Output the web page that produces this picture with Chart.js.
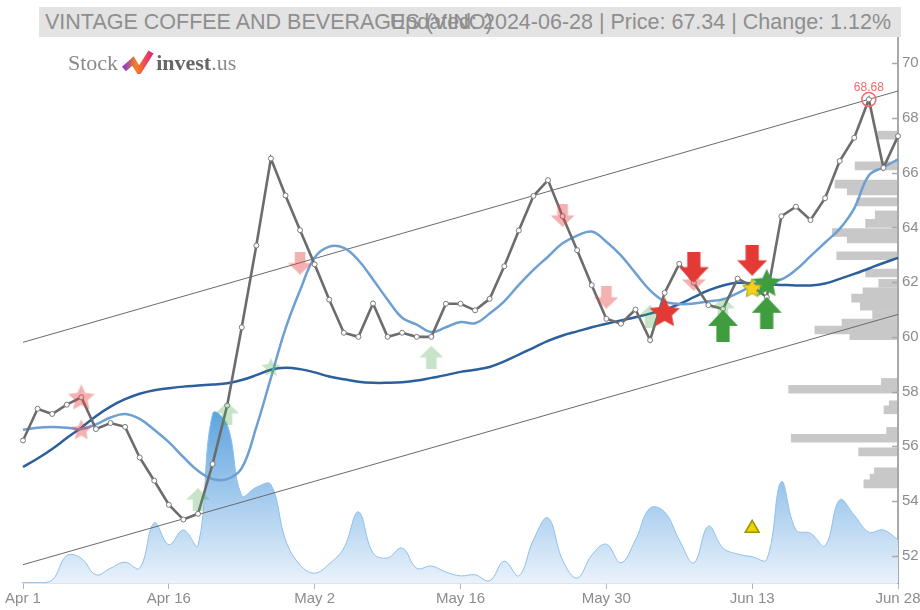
<!DOCTYPE html>
<html>
<head>
<meta charset="utf-8">
<script src="https://cdn.jsdelivr.net/npm/chart.js@4.4.1/dist/chart.umd.min.js"></script>
<style>
  body { margin:0; background:#fff; overflow:hidden; }
  #wrap { position:relative; width:920px; height:610px; }
  canvas { position:absolute; left:0; top:0; }
  #bar { position:absolute; left:39px; top:7px; width:862px; height:30px; background:#e3e3e3; }
  .tt { position:absolute; top:7px; height:30px; line-height:30px; font-family:'Liberation Sans', Arial, sans-serif;
        font-size:21.5px; color:#8e8e8e; white-space:nowrap; }
  #logo { position:absolute; left:68px; top:50px; height:26px; line-height:26px; font-family:'Liberation Serif', serif;
          font-size:22px; color:#8a8a8a; white-space:nowrap; }
  #logo svg { vertical-align:-4px; margin:0 2px 0 3px; }
  #logo b { color:#666; }
</style>
</head>
<body>
<div id="wrap">
  <canvas id="profile" width="920" height="610"></canvas>
  <canvas id="chart" width="920" height="610"></canvas>
  <div id="bar"></div>
  <div class="tt" style="left:45px">VINTAGE COFFEE AND BEVERAGES (VINO)</div>
  <div class="tt" style="right:29px">Updated: 2024-06-28 | Price: 67.34 | Change: 1.12%</div>
  <div id="logo">Stock<svg width="33" height="24" viewBox="0 0 33 24">
    <defs><linearGradient id="lg" x1="0" y1="0" x2="1" y2="0">
      <stop offset="0" stop-color="#8e3bc8"/><stop offset="0.45" stop-color="#f7821d"/><stop offset="1" stop-color="#e4287c"/>
    </linearGradient></defs>
    <polyline points="3,19 12,11 18,21 30,2" fill="none" stroke="url(#lg)" stroke-width="6"/>
  </svg><b>invest</b>.us</div>
</div>
<script>
// trading days shown on the x axis
const dates = [
  'Apr 1','Apr 2','Apr 3','Apr 4','Apr 5','Apr 8','Apr 9','Apr 10','Apr 11','Apr 12',
  'Apr 16','Apr 17','Apr 18','Apr 19','Apr 22','Apr 23','Apr 24','Apr 25','Apr 26','Apr 29',
  'May 2','May 3','May 6','May 7','May 8','May 9','May 10','May 13','May 14','May 15',
  'May 16','May 17','May 20','May 21','May 22','May 23','May 24','May 27','May 28','May 29',
  'May 30','May 31','Jun 3','Jun 4','Jun 5','Jun 6','Jun 7','Jun 10','Jun 11','Jun 12',
  'Jun 13','Jun 14','Jun 17','Jun 18','Jun 20','Jun 21','Jun 24','Jun 25','Jun 26','Jun 27',
  'Jun 28'
];
const tickDates = ['Apr 1','Apr 16','May 2','May 16','May 30','Jun 13','Jun 28'];
const yTicks = [52,54,56,58,60,62,64,66,68,70];

const price = [56.21,57.37,57.18,57.52,57.79,56.63,56.85,56.71,55.59,54.74,
  53.86,53.32,53.53,55.35,57.49,60.35,63.34,66.52,65.17,63.90,
  62.65,61.36,60.15,60.00,61.22,60.00,60.15,60.00,60.00,61.21,
  61.21,60.97,61.39,62.58,63.89,65.15,65.73,64.41,63.17,61.89,
  60.66,60.48,61.00,59.88,61.61,62.67,61.98,61.16,61.02,62.13,
  61.85,61.45,64.41,64.76,64.27,65.07,66.43,67.28,68.68,66.18,67.34];

const maFast = [56.6,56.68,56.7,56.68,56.63,56.8,57.05,57.18,57.0,56.6,
  56.15,55.6,55.1,54.8,54.8,55.2,56.7,58.5,60.3,61.7,
  62.9,63.3,63.25,62.8,62.1,61.36,60.7,60.45,60.18,60.35,
  60.54,60.5,60.85,61.3,61.9,62.45,62.93,63.42,63.7,63.85,
  63.48,62.98,62.33,61.7,61.3,61.2,61.22,61.3,61.37,61.6,
  61.85,62.0,62.1,62.45,62.95,63.45,63.95,64.7,65.9,66.2,66.49];

const maSlow = [55.24,55.55,55.9,56.3,56.68,57.1,57.45,57.72,57.92,58.05,
  58.12,58.18,58.22,58.26,58.3,58.42,58.6,58.8,58.87,58.82,
  58.7,58.55,58.45,58.36,58.32,58.32,58.34,58.4,58.5,58.6,
  58.72,58.8,58.9,59.1,59.35,59.6,59.85,60.05,60.2,60.35,
  60.48,60.6,60.72,60.85,61.0,61.2,61.45,61.7,61.88,61.98,
  61.95,61.92,61.9,61.88,61.88,61.95,62.12,62.3,62.5,62.7,62.89];

const volume = [0,0,0.5,5,4.5,1.5,2.7,3.8,2.7,11,
  7,9.7,6.8,31,29,16,17.5,18,7.9,3.3,
  1.8,3.5,6.4,13,5.5,4.6,6.4,2.7,3.1,2,
  1.3,1.5,0.4,4,1.3,7.9,11.9,4.2,0.9,5.1,
  7.1,3.7,7.9,13.7,13,7.9,3.7,10.4,6.4,5.3,
  4.8,4.3,18.5,9.7,9.1,6.8,15.2,12.4,9.3,9.7,7.9];

const channelUpper = [59.8, 68.99];
const channelLower = [51.67, 60.82];

// volume by price (right side)
const profileLevels = [68.65,67.3,66.5,66.2,65.72,65.15,64.78,64.38,64.1,63.36,62.6,62.15,61.78,61.5,61.15,
  60.78,60.4,60.1,59.85,57.8,57.5,56.82,56.6,55.65,55.35,54.75,53.88,53.6,53.35];
const profileVolume = [2.3,4.9,7.2,5.8,4.7,2.6,3.7,7.5,5.8,7.0,3.7,2.2,4.0,5.3,4.3,
  2.9,6.4,9.5,5.5,1.9,12.5,1.0,1.6,1.3,12.2,4.5,2.7,3.2,3.9];

// signals: [day index, price]
const buyArrows = [[48, 60.4], [51, 60.88]];
const sellArrows = [[46, 62.55], [50, 62.8]];
const sellStars = [[44, 60.9]];
const buyStars = [[51, 61.98]];
const neutralStars = [[50, 61.8]];
const weakBuyArrows = [[12, 54.05], [14, 57.2], [28, 59.25], [43, 60.75], [48, 61.04]];
const weakSellArrows = [[19, 62.7], [37, 64.44], [40, 61.45], [46, 62.1]];
const weakSellStars = [[4, 57.79], [4, 56.62]];
const weakBuyStars = [[17, 58.9]];
const triangles = [[50, 53.0]];
const peak = [[58, 68.68]];
const peakLabel = '68.68';

const pts = arr => arr.map(([i, v]) => ({x: dates[i], y: v}));

function makeStar(r, fill, stroke, lw){
  const s = Math.ceil(2*r + 4);
  const c = document.createElement('canvas');
  c.width = c.height = s;
  const g = c.getContext('2d');
  g.beginPath();
  for(let k=0;k<10;k++){
    const rr = k%2 ? r*0.48 : r;
    const a = -Math.PI/2 + k*Math.PI/5;
    g.lineTo(s/2 + rr*Math.cos(a), s/2 + 1 + rr*Math.sin(a));
  }
  g.closePath();
  g.fillStyle = fill; g.fill();
  if(stroke){ g.strokeStyle = stroke; g.lineWidth = lw; g.stroke(); }
  return c;
}

function makeArrow(w, h, fill, up){
  const c = document.createElement('canvas');
  c.width = w; c.height = h;
  const g = c.getContext('2d');
  const sw = w*0.44, hh = h*0.5;
  g.beginPath();
  if(up){
    g.moveTo(w/2, 0); g.lineTo(w, hh); g.lineTo(w/2+sw/2, hh); g.lineTo(w/2+sw/2, h);
    g.lineTo(w/2-sw/2, h); g.lineTo(w/2-sw/2, hh); g.lineTo(0, hh);
  } else {
    g.moveTo(w/2-sw/2, 0); g.lineTo(w/2+sw/2, 0); g.lineTo(w/2+sw/2, hh); g.lineTo(w, hh);
    g.lineTo(w/2, h); g.lineTo(0, hh); g.lineTo(w/2-sw/2, hh);
  }
  g.closePath();
  g.fillStyle = fill; g.fill();
  return c;
}

const RED = '#e43a36', GREEN = '#3f9d3f';
const FRED = 'rgba(228,70,70,0.42)', FGREEN = 'rgba(70,165,75,0.3)';

function markers(arr, style, order, extra){
  return Object.assign({
    type: 'line', data: pts(arr), showLine: false, pointStyle: style,
    pointRadius: 5, order: order, yAxisID: 'y'
  }, extra || {});
}

Chart.defaults.font.family = "'Liberation Sans', Arial, sans-serif";

const extras = {
  id: 'extras',
  afterDraw(chart){
    const ctx = chart.ctx, s = chart.scales.y;
    ctx.save();
    ctx.strokeStyle = '#a8a8a8'; ctx.lineWidth = 1.5;
    yTicks.forEach(v => {
      const y = Math.round(s.getPixelForValue(v)) + 0.5;
      ctx.beginPath(); ctx.moveTo(s.left - 6, y); ctx.lineTo(s.left, y); ctx.stroke();
    });
    const el = chart.getDatasetMeta(0).data[0];
    ctx.fillStyle = '#f06a6a';
    ctx.font = "12px 'Liberation Sans', Arial, sans-serif";
    ctx.textAlign = 'center'; ctx.textBaseline = 'middle';
    ctx.fillText(peakLabel, el.x, el.y - 12);
    ctx.restore();
  }
};

new Chart(document.getElementById('chart'), {
  type: 'line',
  data: {
    labels: dates,
    datasets: [
      markers(peak, 'circle', 0, {pointRadius: 7, pointBackgroundColor: 'rgba(0,0,0,0)', pointBorderColor: '#f06a6a', pointBorderWidth: 1.5}),
      markers(neutralStars, makeStar(10, '#f7d117', '#9aa21a', 1), 1),
      markers(triangles, 'triangle', 1, {pointRadius: 8, pointBackgroundColor: '#f5d000', pointBorderColor: '#8d9a00', pointBorderWidth: 1.5}),
      markers(sellArrows, makeArrow(30, 31, RED, false), 2),
      markers(buyArrows, makeArrow(30, 32, GREEN, true), 2),
      markers(sellStars, makeStar(16, RED), 2),
      markers(buyStars, makeStar(15, GREEN), 2),
      markers(weakSellArrows, makeArrow(24, 23, FRED, false), 3),
      markers(weakBuyArrows, makeArrow(24, 23, FGREEN, true), 3),
      markers(weakSellStars, [makeStar(14, FRED), makeStar(11, FRED)], 3),
      markers(weakBuyStars, makeStar(10, FGREEN), 3),
      {
        label: 'Price', data: price, order: 4, borderColor: '#6c6c6c', borderWidth: 2.6, tension: 0,
        pointRadius: 2.5, pointBackgroundColor: '#fff', pointBorderColor: '#7a7a7a', pointBorderWidth: 1
      },
      { label: 'MA short', data: maFast, order: 5, borderColor: '#6c9fd2', borderWidth: 2.5, tension: 0.4, pointRadius: 0 },
      { label: 'MA long', data: maSlow, order: 6, borderColor: '#2c5f9c', borderWidth: 2.5, tension: 0.4, pointRadius: 0 },
      { label: 'Upper', data: pts([[0, channelUpper[0]], [60, channelUpper[1]]]), order: 7, borderColor: '#6a6a6a', borderWidth: 1, pointRadius: 0 },
      { label: 'Lower', data: pts([[0, channelLower[0]], [60, channelLower[1]]]), order: 7, borderColor: '#6a6a6a', borderWidth: 1, pointRadius: 0 },
      {
        label: 'Volume', data: volume, yAxisID: 'yv', order: 8, borderColor: '#8fc0ea', borderWidth: 1,
        tension: 0.4, pointRadius: 0, fill: 'origin',
        backgroundColor(c){
          const ch = c.chart, a = ch.chartArea;
          if(!a) return '#cfe3f6';
          const g = ch.ctx.createLinearGradient(0, ch.scales.yv.getPixelForValue(32), 0, a.bottom);
          g.addColorStop(0, '#5aa2df'); g.addColorStop(1, '#eaf2fb');
          return g;
        }
      }
    ]
  },
  options: {
    responsive: false, animation: false, events: [],
    layout: { padding: { left: 23, top: 36, right: 0, bottom: 0 } },
    plugins: { legend: { display: false }, tooltip: { enabled: false } },
    scales: {
      x: {
        type: 'category', offset: false,
        grid: { display: true, drawOnChartArea: false, drawTicks: true, tickLength: 6, color: '#b8b8b8' },
        border: { color: '#c2c8d0', width: 1.5 },
        ticks: { autoSkip: false, maxRotation: 0, padding: 1, color: '#8c8c8c', font: { size: 15 } },
        afterBuildTicks(s){ s.ticks = tickDates.map(t => ({ value: dates.indexOf(t) })); },
        afterFit(s){ s.height = 27; s.paddingLeft = 0; s.paddingRight = 0; }
      },
      y: {
        position: 'right', min: 51, max: 71,
        grid: { display: false, drawTicks: false },
        border: { display: true, color: '#a8a8a8', width: 2 },
        ticks: { padding: 4, color: '#8c8c8c', font: { size: 15 } },
        afterBuildTicks(s){ s.ticks = yTicks.map(v => ({ value: v })); },
        afterFit(s){ s.width = 22; s.paddingTop = 0; s.paddingBottom = 0; }
      },
      yv: { display: false, min: 0, max: 100 }
    }
  },
  plugins: [extras]
});

new Chart(document.getElementById('profile'), {
  type: 'bar',
  data: {
    datasets: [{
      data: profileLevels.map((lv, i) => ({ x: profileVolume[i], y: lv })),
      backgroundColor: '#c8c8c8', barThickness: 8
    }]
  },
  options: {
    indexAxis: 'y', responsive: false, animation: false, events: [],
    layout: { padding: { left: 23, top: 36, right: 22, bottom: 27 } },
    plugins: { legend: { display: false }, tooltip: { enabled: false } },
    scales: {
      y: { type: 'linear', min: 51, max: 71, display: false },
      x: { type: 'linear', min: 0, max: 100, reverse: true, display: false }
    }
  }
});
</script>
</body>
</html>
